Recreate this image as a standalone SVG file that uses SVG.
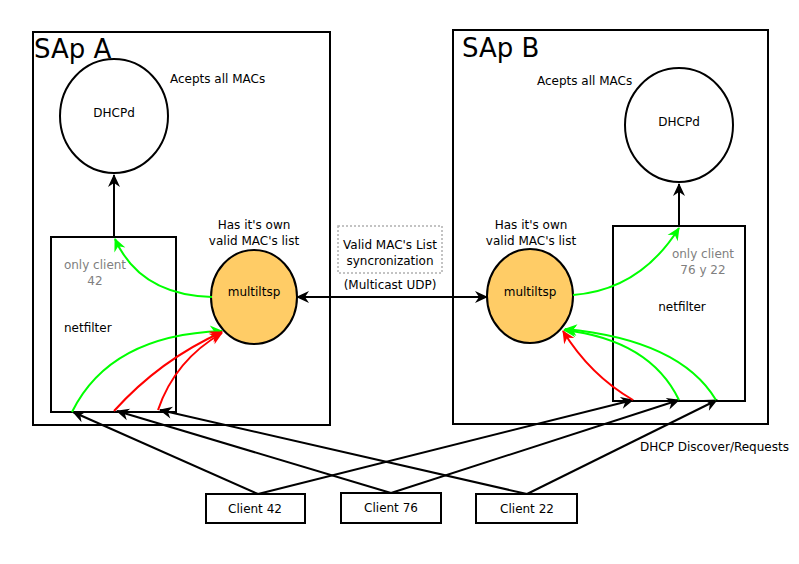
<svg xmlns="http://www.w3.org/2000/svg" width="799" height="564" viewBox="0 0 799 564">
<style>
text{font-family:"DejaVu Sans","Liberation Sans",sans-serif;font-size:12px;fill:#000}
.title{font-size:26px}
.gray{fill:#808080}
.box{fill:none;stroke:#000;stroke-width:2}
.nbox{fill:#fff;stroke:#000;stroke-width:2}
.ell{fill:#fff;stroke:#000;stroke-width:2}
.mt{fill:#ffcc66;stroke:#000;stroke-width:2}
.blk{fill:none;stroke:#000;stroke-width:2;marker-end:url(#ab)}
.grn{fill:none;stroke:#00ff00;stroke-width:2;marker-end:url(#ag)}
.red{fill:none;stroke:#ff0000;stroke-width:2;marker-end:url(#ar)}
</style>
<defs>
<marker id="ab" markerUnits="userSpaceOnUse" viewBox="-13 -7 14 14" refX="0" refY="0" markerWidth="14" markerHeight="14" orient="auto-start-reverse"><path d="M1,0 L-12,-6 L-8,0 L-12,6 Z" fill="#000"/></marker>
<marker id="ag" markerUnits="userSpaceOnUse" viewBox="-13 -7 14 14" refX="0" refY="0" markerWidth="14" markerHeight="14" orient="auto"><path d="M1,0 L-12,-6 L-8,0 L-12,6 Z" fill="#00ff00"/></marker>
<marker id="ar" markerUnits="userSpaceOnUse" viewBox="-13 -7 14 14" refX="0" refY="0" markerWidth="14" markerHeight="14" orient="auto"><path d="M1,0 L-12,-6 L-8,0 L-12,6 Z" fill="#ff0000"/></marker>
</defs>
<rect width="799" height="564" fill="#fff"/>
<g id="sapA">
<rect class="box" x="33" y="32" width="297" height="393"/>
<text class="title" x="34" y="58">SAp A</text>
<text x="170" y="83">Acepts all MACs</text>
<text x="254" y="229" text-anchor="middle">Has it's own</text>
<text x="254" y="245" text-anchor="middle">valid MAC's list</text>
</g>
<g id="sapB">
<rect class="box" x="453" y="30" width="315" height="394"/>
<text class="title" x="462" y="57">SAp B</text>
<text x="537" y="85">Acepts all MACs</text>
<text x="531" y="229" text-anchor="middle">Has it's own</text>
<text x="531" y="245" text-anchor="middle">valid MAC's list</text>
</g>
<g id="dhcpdA">
<ellipse class="ell" cx="114" cy="116" rx="54" ry="57"/>
<text x="114" y="117" text-anchor="middle">DHCPd</text>
</g>
<g id="dhcpdB">
<ellipse class="ell" cx="679" cy="125" rx="54" ry="57"/>
<text x="679" y="126" text-anchor="middle">DHCPd</text>
</g>
<g id="netfilterA">
<rect class="nbox" x="51" y="237" width="125" height="175"/>
<text class="gray" x="95" y="269" text-anchor="middle">only client</text>
<text class="gray" x="95" y="285" text-anchor="middle">42</text>
<text x="64" y="332">netfilter</text>
</g>
<g id="netfilterB">
<rect class="nbox" x="613" y="226" width="132" height="175"/>
<text class="gray" x="703" y="258" text-anchor="middle">only client</text>
<text class="gray" x="703" y="274" text-anchor="middle">76 y 22</text>
<text x="682" y="311" text-anchor="middle">netfilter</text>
</g>
<g id="multiltspA">
<ellipse class="mt" cx="254" cy="297" rx="43" ry="47"/>
<text x="254" y="296" text-anchor="middle">multiltsp</text>
</g>
<g id="multiltspB">
<ellipse class="mt" cx="530" cy="296" rx="43" ry="47"/>
<text x="530" y="296" text-anchor="middle">multiltsp</text>
</g>
<g id="sync">
<rect x="338" y="226" width="104" height="47" fill="none" stroke="#b0b0b0" stroke-width="1.5" stroke-dasharray="2,2"/>
<text x="390" y="249" text-anchor="middle">Valid MAC's List</text>
<text x="390" y="265" text-anchor="middle">syncronization</text>
<text x="390" y="289" text-anchor="middle">(Multicast UDP)</text>
</g>
<g id="client42">
<rect class="box" x="206" y="494" width="99" height="29"/>
<text x="255" y="513" text-anchor="middle">Client 42</text>
</g>
<g id="client76">
<rect class="box" x="341" y="493" width="100" height="30"/>
<text x="391" y="512" text-anchor="middle">Client 76</text>
</g>
<g id="client22">
<rect class="box" x="476" y="494" width="101" height="29"/>
<text x="527" y="513" text-anchor="middle">Client 22</text>
</g>
<text x="640" y="451">DHCP Discover/Requests</text>
<g id="connectors">
<path class="blk" d="M114,237 L114,175"/>
<path class="blk" d="M679,226 L679,184"/>
<path class="blk" d="M297,297 L487,297" style="marker-start:url(#ab)"/>
<path class="blk" d="M258,494 L73,412"/>
<path class="blk" d="M391,493 L117,411"/>
<path class="blk" d="M527,494 L160,410"/>
<path class="blk" d="M258,494 L633,400"/>
<path class="blk" d="M391,493 L679,400"/>
<path class="blk" d="M527,494 L717,400"/>
<path class="grn" d="M212,297 Q140,295 115,239"/>
<path class="grn" d="M72,412 Q110,335 222,331"/>
<path class="red" d="M114,411 Q160,360 222,332"/>
<path class="red" d="M158,410 Q175,360 222,333"/>
<path class="grn" d="M573,295 Q640,290 679,228"/>
<path class="red" d="M633,400 Q590,375 563,331"/>
<path class="grn" d="M679,400 Q650,340 564,330"/>
<path class="grn" d="M716,400 Q680,340 565,329"/>
</g>
</svg>
